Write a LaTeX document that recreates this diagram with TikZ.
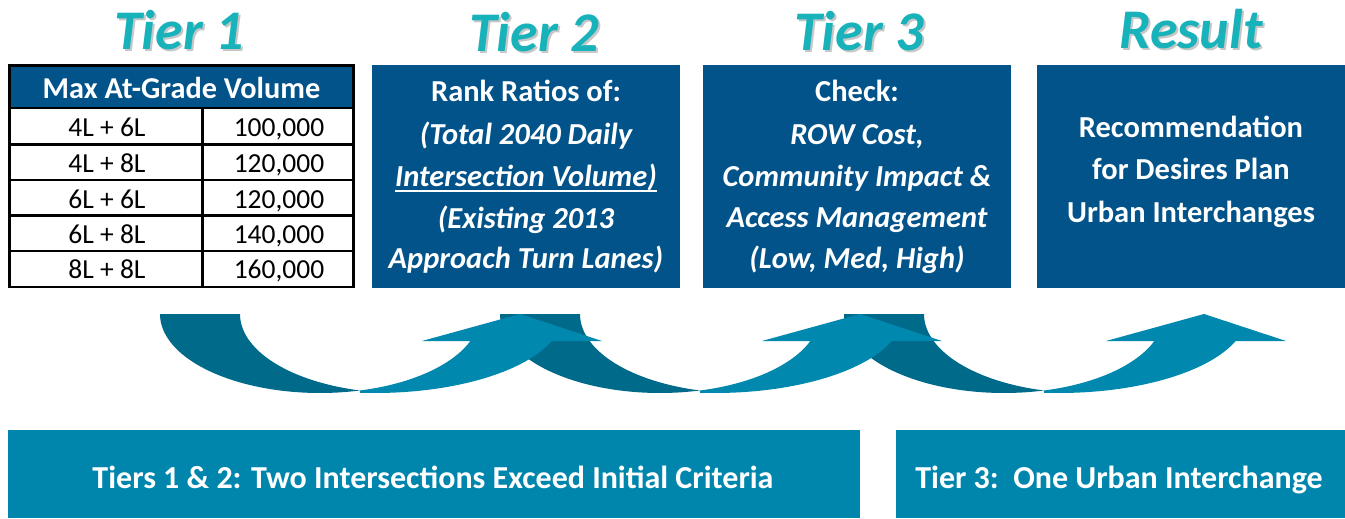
\documentclass[tikz,border=0pt]{standalone}
\usepackage{fontspec}
\setmainfont{Carlito}
\definecolor{boxblue}{RGB}{2,83,138}
\definecolor{barteal}{RGB}{0,134,173}
\definecolor{arrowdark}{RGB}{0,106,138}
\definecolor{arrowlight}{RGB}{0,136,174}
\definecolor{titleteal}{RGB}{24,178,186}
\tikzset{
  tiertitle/.style={font=\fontsize{56}{60}\selectfont\bfseries\itshape, text=titleteal, anchor=base, inner sep=0pt},
  tiershadow/.style={tiertitle, text=black, opacity=0.22},
  panel/.style={fill=boxblue, draw=none},
  bar/.style={fill=barteal, draw=none},
  boxtxt/.style={font=\fontsize{30.5}{36}\selectfont\bfseries, text=white, anchor=base, inner sep=0pt},
  boxit/.style={font=\fontsize{30.5}{36}\selectfont\bfseries\itshape, text=white, anchor=base, inner sep=0pt},
  hdrtxt/.style={font=\fontsize{30.3}{36}\selectfont\bfseries, text=white, anchor=base, inner sep=0pt},
  cell/.style={font=\fontsize{27.5}{32}\selectfont, text=black, anchor=base, inner sep=0pt},
  rule/.style={line width=2.6pt, draw=black},
  bartxt/.style={font=\fontsize{32}{38}\selectfont\bfseries, text=white, anchor=base, inner sep=0pt},
}
\begin{document}
\begin{tikzpicture}[x=1pt,y=-1pt]
\useasboundingbox (0,0) rectangle (1345,519);

% ---- headings with soft drop shadow
\foreach \px/\py/\name/\txt in {179/50/t1/Tier 1, 534/52/t2/Tier 2, 859/51/t3/Tier 3, 1191/49/t4/Result}{
  \node[tiershadow] (\name s) at (\px+2,\py+2) {\txt};
  \node[tiertitle] (\name) at (\px,\py) {\txt};
}

% ---- Tier 1 table
\fill[boxblue] (9.5,65.5) rectangle (353.5,108);
\draw[rule] (9.5,65.5) rectangle (353.5,287);
\foreach \yy in {108,144.3,180,215.7,251}{
  \draw[rule] (9.5,\yy) -- (353.5,\yy);
}
\draw[rule] (202.5,108) -- (202.5,287);
\node[hdrtxt] (hdr) at (181.5,98.5) {Max At-Grade Volume};
\foreach \yy/\lanes/\vol [count=\i] in {136.5/4L + 6L/100{,}000, 172.5/4L + 8L/120{,}000, 208/6L + 6L/120{,}000, 243.5/6L + 8L/140{,}000, 278.5/8L + 8L/160{,}000}{
  \node[cell] (lanes\i) at (107,\yy) {\lanes};
  \node[cell] (vol\i) at (279,\yy) {\vol};
}

% ---- Tier 2 panel
\fill[panel] (372,65) rectangle (680,288);
\node[boxtxt] (t2a) at (526,102) {Rank Ratios of:};
\node[boxit] (t2b) at (526,144.5) {(Total 2040 Daily};
\node[boxit] (t2c) at (526,186.5) {Intersection Volume)};
\draw[white, line width=1.6pt] ([yshift=-4.5pt]t2c.base west) -- ([yshift=-4.5pt]t2c.base east);
\node[boxit] (t2d) at (526,228) {(Existing 2013};
\node[boxit] (t2e) at (526,268) {Approach Turn Lanes)};

% ---- Tier 3 panel
\fill[panel] (703,65) rectangle (1011,288);
\node[boxtxt] (t3a) at (857,102) {Check:};
\node[boxit] (t3b) at (857,144.5) {ROW Cost,};
\node[boxit] (t3c) at (857,186) {Community Impact \&};
\node[boxit] (t3d) at (857,227.5) {Access Management};
\node[boxit] (t3e) at (857,268) {(Low, Med, High)};

% ---- Result panel
\fill[panel] (1037,65) rectangle (1345,288);
\node[boxtxt] (r1) at (1191,137) {Recommendation};
\node[boxtxt] (r2) at (1191,179.5) {for Desires Plan};
\node[boxtxt] (r3) at (1191,222) {Urban Interchanges};

% ---- curved up-arrows: back halves first, front halves on top
\foreach \dx in {0,340,684}{
  \begin{scope}[xshift=\dx pt]
    \fill[arrowdark]
      plot[domain=180:75.52, samples=60, variable=\t] ({320+160*cos(\t)},{314+79*sin(\t)})
      -- plot[domain=104.48:180, samples=60, variable=\t] ({400+160*cos(\t)},{314+79*sin(\t)})
      -- cycle;
  \end{scope}
}
\foreach \dx in {0,340,684}{
  \begin{scope}[xshift=\dx pt]
    \fill[arrowlight]
      plot[domain=75.52:20, samples=40, variable=\t] ({320+160*cos(\t)},{314+79*sin(\t)})
      -- (422,341) -- (520,314) -- (602,341)
      -- plot[domain=20:94.6, samples=50, variable=\t] ({375+188*cos(\t)},{314+79*sin(\t)})
      -- cycle;
  \end{scope}
}

% ---- summary bars
\fill[bar] (8,430) rectangle (860,518);
\node[bartxt] (s1) at (433,488) {Tiers 1 \& 2: Two Intersections Exceed Initial Criteria};
\fill[bar] (896,430) rectangle (1345,518);
\node[bartxt] (s2) at (1119,488) {Tier 3:\ \ One Urban Interchange};
\end{tikzpicture}
\end{document}
